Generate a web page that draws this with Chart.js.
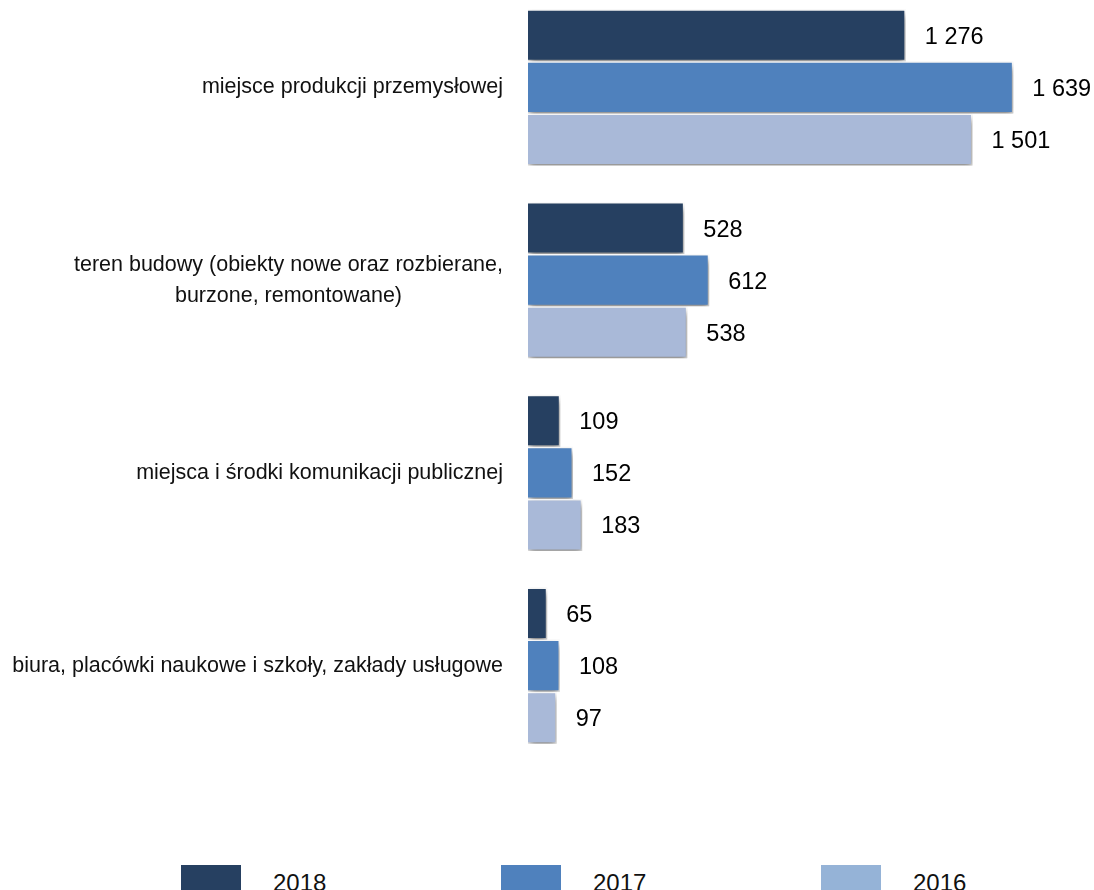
<!DOCTYPE html>
<html lang="pl">
<head>
<meta charset="utf-8">
<script src="https://cdn.jsdelivr.net/npm/chart.js@4/dist/chart.umd.min.js"></script>
<style>
  html, body { margin: 0; padding: 0; background: #fff; overflow: hidden; }
  body { width: 1094px; height: 890px; position: relative; font-family: "Liberation Sans", Arial, sans-serif; }
  #wrap { position: absolute; left: 0; top: -9px; width: 1094px; height: 771px; }
  #legend { position: absolute; left: 181px; top: 865px; display: flex; }
  .item { width: 320px; display: flex; align-items: flex-start; }
  .box { width: 60px; height: 26px; margin-right: 32px; }
  .lbl { font-size: 24px; color: #111; line-height: 1; margin-top: 6px; }
</style>
</head>
<body>
<div id="wrap"><canvas id="chart"></canvas></div>
<div id="legend"></div>
<script>
const categories = [
  ['miejsce produkcji przemysłowej'],
  ['teren budowy (obiekty nowe oraz rozbierane,', 'burzone, remontowane)'],
  ['miejsca i środki komunikacji publicznej'],
  ['biura, placówki naukowe i szkoły, zakłady usługowe']
];
const years = ['2018', '2017', '2016'];
const values2018 = [1276, 528, 109, 65];
const values2017 = [1639, 612, 152, 108];
const values2016 = [1501, 538, 183, 97];
const barColors = ['#264061', '#4f81bd', '#a9b9d8'];
const legendColors = ['#264061', '#4f81bd', '#95b3d7'];

const fmt = v => String(v).replace(/\B(?=(\d{3})+(?!\d))/g, ' ');

// soft drop shadow under the bars
const barShadow = {
  id: 'barShadow',
  beforeDatasetsDraw(chart) {
    const ctx = chart.ctx;
    ctx.save();
    ctx.shadowColor = 'rgba(0,0,0,0.5)';
    ctx.shadowBlur = 7;
    ctx.shadowOffsetX = 1;
    ctx.shadowOffsetY = 4;
  },
  afterDatasetsDraw(chart) {
    chart.ctx.restore();
  }
};

// value labels to the right of each bar
const valueLabels = {
  id: 'valueLabels',
  afterDatasetsDraw(chart) {
    const ctx = chart.ctx;
    ctx.save();
    ctx.font = '23.5px "Liberation Sans", Arial, sans-serif';
    ctx.fillStyle = '#000';
    ctx.textAlign = 'left';
    ctx.textBaseline = 'middle';
    chart.data.datasets.forEach((ds, i) => {
      chart.getDatasetMeta(i).data.forEach((bar, j) => {
        ctx.fillText(fmt(ds.data[j]), bar.x + 19, bar.y + 2);
      });
    });
    ctx.restore();
  }
};

// category names, lines centred as a block, block right-aligned to the axis
const categoryLabels = {
  id: 'categoryLabels',
  afterDraw(chart) {
    const ctx = chart.ctx;
    const y = chart.scales.y;
    const right = chart.chartArea.left - 25;
    const lineH = 31;
    ctx.save();
    ctx.font = '21.5px "Liberation Sans", Arial, sans-serif';
    ctx.fillStyle = '#111';
    ctx.textBaseline = 'middle';
    ctx.textAlign = 'center';
    categories.forEach((lines, i) => {
      const w = Math.max(...lines.map(l => ctx.measureText(l).width));
      const cx = right - w / 2;
      const cy = y.getPixelForValue(i);
      const top = cy - (lines.length - 1) * lineH / 2;
      lines.forEach((l, k) => ctx.fillText(l, cx, top + k * lineH));
    });
    ctx.restore();
  }
};

new Chart(document.getElementById('chart'), {
  type: 'bar',
  data: {
    labels: categories,
    datasets: [values2018, values2017, values2016].map((d, i) => ({
      label: years[i],
      data: d,
      backgroundColor: barColors[i],
      borderColor: '#ffffff',
      borderWidth: 1.5,
      barPercentage: 1,
      categoryPercentage: 0.81
    }))
  },
  options: {
    indexAxis: 'y',
    responsive: true,
    maintainAspectRatio: false,
    animation: false,
    layout: { padding: { left: 0, right: 33, top: 0, bottom: 0 } },
    plugins: { legend: { display: false }, tooltip: { enabled: false } },
    scales: {
      x: { display: false, min: 0, max: 1800 },
      y: {
        grid: { display: false },
        border: { display: false },
        ticks: { display: false },
        afterFit(scale) { scale.width = 528; }
      }
    }
  },
  plugins: [barShadow, valueLabels, categoryLabels]
});

// legend row
const legend = document.getElementById('legend');
years.forEach((yr, i) => {
  const item = document.createElement('div');
  item.className = 'item';
  item.innerHTML = '<div class="box" style="background:' + legendColors[i] + '"></div><div class="lbl">' + yr + '</div>';
  legend.appendChild(item);
});
</script>
</body>
</html>
